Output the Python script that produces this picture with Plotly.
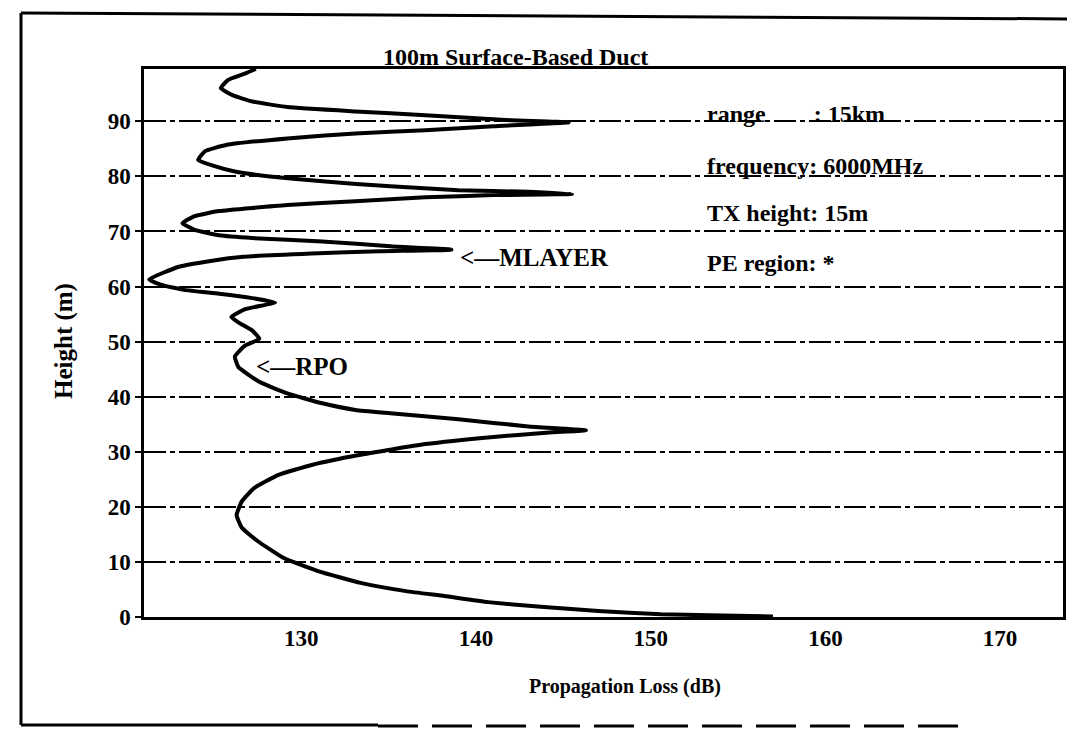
import plotly.graph_objects as go

# ---- data ----
loss_db = [157.0, 153.4, 150.6, 147.0, 143.9, 140.7, 138.2, 136.0, 133.4, 131.0,
           129.0, 127.5, 126.6, 126.3, 126.6, 127.3, 128.7, 130.6, 133.3, 137.1,
           141.0, 144.2, 146.3, 143.0, 139.0, 135.1, 133.1, 131.2, 129.2, 127.6,
           126.4, 126.2, 126.8, 127.6, 127.2, 126.4, 126.0, 126.8, 128.5, 127.2,
           125.3, 123.3, 122.0, 121.3, 123.0, 124.9, 126.7, 130.6, 134.5, 138.6,
           135.1, 131.2, 127.2, 125.3, 123.9, 123.2, 123.9, 125.3, 129.2, 133.1,
           137.1, 141.0, 145.5, 143.0, 139.0, 135.1, 131.2, 128.2, 126.2, 124.9,
           124.1, 124.5, 125.7, 129.2, 133.1, 137.1, 141.0, 145.3, 142.0, 137.1,
           133.1, 129.2, 127.2, 126.1, 125.4, 125.8, 126.8, 127.4]
height_m = [0.1, 0.3, 0.5, 1.1, 1.8, 2.7, 3.8, 4.7, 6.2, 8.3,
            10.7, 13.8, 16.2, 18.5, 21.0, 23.4, 25.8, 27.6, 29.4, 31.4,
            32.7, 33.5, 33.9, 34.6, 35.9, 37.0, 37.6, 38.8, 40.6, 42.7,
            45.4, 47.3, 49.3, 50.5, 52.0, 53.5, 54.5, 55.9, 57.1, 57.9,
            58.7, 59.4, 60.3, 61.3, 63.6, 64.7, 65.4, 66.0, 66.4, 66.7,
            67.3, 68.2, 68.8, 69.3, 70.3, 71.5, 72.8, 73.7, 74.8, 75.5,
            76.2, 76.6, 76.8, 77.2, 77.5, 78.2, 79.1, 80.0, 80.9, 82.0,
            83.0, 84.6, 85.7, 86.9, 87.8, 88.4, 89.1, 89.8, 90.2, 91.1,
            91.8, 92.6, 93.6, 94.7, 96.0, 97.5, 98.7, 99.5]

x_ticks = [130, 140, 150, 160, 170]
y_ticks = [0, 10, 20, 30, 40, 50, 60, 70, 80, 90]

title_text = "100m Surface-Based Duct"
x_title = "Propagation Loss (dB)"
y_title = "Height (m)"
info_lines = ["range        : 15km", "frequency: 6000MHz", "TX height: 15m", "PE region: *"]
info_heights = [91.3, 81.9, 73.3, 64.2]
info_loss = 153.1
marker_labels = ["<—MLAYER", "<—RPO"]
marker_loss = [139.0, 127.3]
marker_heights = [65.2, 45.5]

# ---- layout geometry (pixels) ----
W, H = 1075, 731
L, R, T, B = 136, 1055, 61, 609


def px(x):
    return (x - L) / (R - L)


def py(y):
    return (B - y) / (B - T)


FONT = "Liberation Serif"

fig = go.Figure()
fig.add_trace(go.Scatter(
    x=loss_db, y=height_m, mode="lines",
    line=dict(color="black", width=4, shape="spline", smoothing=0.4),
    showlegend=False, hoverinfo="skip"))

fig.update_layout(
    width=W, height=H, autosize=False,
    margin=dict(l=L, r=W - R, t=T, b=H - B, pad=0),
    paper_bgcolor="white", plot_bgcolor="white",
    font=dict(family=FONT, color="black"),
    showlegend=False,
)

fig.update_xaxes(
    range=[121.0, 173.6], tickvals=x_ticks, ticks="",
    showline=True, mirror=True, linecolor="black", linewidth=2.5,
    showgrid=False, zeroline=False,
    tickfont=dict(family=FONT, size=23, color="black", weight="bold"),
    ticklabelstandoff=-1,
)
fig.update_yaxes(
    range=[0, 99.5], tickvals=y_ticks, ticks="outside", ticklen=6, tickwidth=2,
    tickcolor="black",
    showline=True, mirror=True, linecolor="black", linewidth=2.5,
    showgrid=True, gridcolor="black", gridwidth=1.6, griddash="22px,4px,5px,4px",
    zeroline=False,
    tickfont=dict(family=FONT, size=23, color="black", weight="bold"),
)

annotations = [
    dict(text=title_text, xref="paper", yref="paper", x=px(507), y=py(49),
         xanchor="center", yanchor="middle", showarrow=False,
         font=dict(family=FONT, size=24, color="black", weight="bold")),
    dict(text=x_title, xref="paper", yref="paper", x=px(617), y=py(678),
         xanchor="center", yanchor="middle", showarrow=False,
         font=dict(family=FONT, size=20, color="black", weight="bold")),
    dict(text=y_title, xref="paper", yref="paper", x=px(56), y=py(333),
         xanchor="center", yanchor="middle", showarrow=False, textangle=-90,
         font=dict(family=FONT, size=25, color="black", weight="bold")),
]
for txt, hy in zip(info_lines, info_heights):
    annotations.append(dict(text=txt.replace(" ", "&nbsp;"), x=info_loss, y=hy,
                            xref="x", yref="y", xanchor="left", yanchor="middle",
                            showarrow=False,
                            font=dict(family=FONT, size=24, color="black", weight="bold")))
for txt, lx, hy in zip(marker_labels, marker_loss, marker_heights):
    annotations.append(dict(text=txt, x=lx, y=hy, xref="x", yref="y",
                            xanchor="left", yanchor="middle", showarrow=False,
                            font=dict(family=FONT, size=25, color="black", weight="bold")))
fig.update_layout(annotations=annotations)

# outer document frame (scan border)
shapes = [
    dict(type="line", xref="paper", yref="paper", x0=px(13), y0=py(5), x1=px(1075), y1=py(11),
         line=dict(color="black", width=3)),
    dict(type="line", xref="paper", yref="paper", x0=px(13), y0=py(5), x1=px(13), y1=py(717),
         line=dict(color="black", width=3)),
    dict(type="line", xref="paper", yref="paper", x0=px(13), y0=py(717), x1=px(370), y1=py(717),
         line=dict(color="black", width=3)),
    dict(type="line", xref="paper", yref="paper", x0=px(370), y0=py(718), x1=px(960), y1=py(718),
         line=dict(color="black", width=3, dash="40px,14px")),
]
fig.update_layout(shapes=shapes)

fig.write_html("out.html")
